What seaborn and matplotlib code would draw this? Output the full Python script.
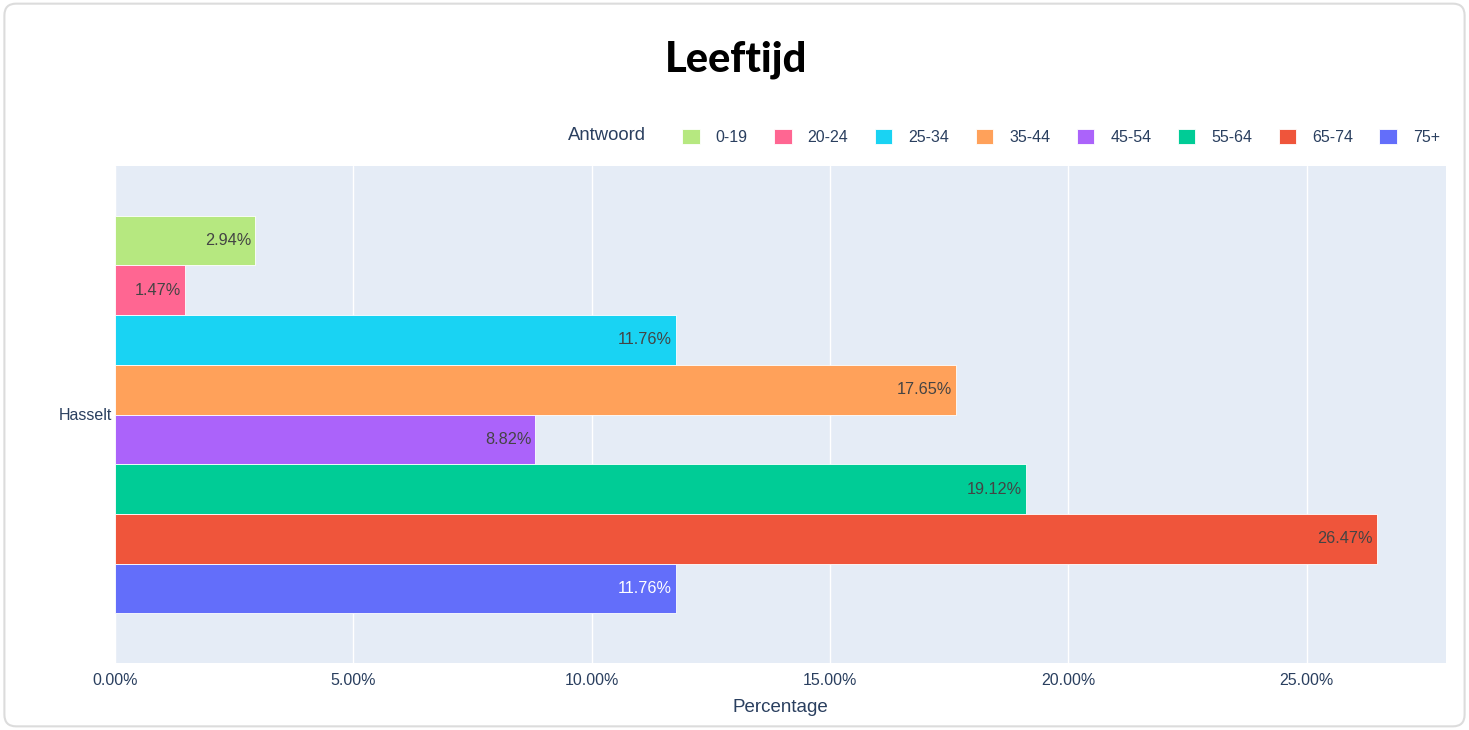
import matplotlib
matplotlib.use("Agg")
import matplotlib.pyplot as plt
import matplotlib.patches as mpatches
import pandas as pd
import seaborn as sns
from matplotlib.ticker import FuncFormatter

regio = ["Hasselt"] * 8
antwoord = ["0-19", "20-24", "25-34", "35-44", "45-54", "55-64", "65-74", "75+"]
percentage = [2.94, 1.47, 11.76, 17.65, 8.82, 19.12, 26.47, 11.76]
kleuren = ["#B6E880", "#FF6692", "#19D3F3", "#FFA15A", "#AB63FA", "#00CC96", "#EF553B", "#636EFA"]

df = pd.DataFrame({"Regio": regio, "Antwoord": antwoord, "Percentage": percentage})

sns.set_style("white")
plt.rcParams["font.family"] = ["Liberation Sans", "DejaVu Sans"]
txt_col = "#2a3f5f"

fig = plt.figure(figsize=(14.69, 7.30), dpi=100)
ax = fig.add_axes([115 / 1469, 1 - 663 / 730, (1446 - 115) / 1469, (663 - 166) / 730])
ax.set_facecolor("#E5ECF6")

sns.barplot(data=df, y="Regio", x="Percentage", hue="Antwoord", hue_order=antwoord,
            palette=kleuren, orient="h", errorbar=None, width=0.8,
            edgecolor="white", linewidth=0.6, saturation=1, ax=ax)

ax.set_xlim(0, 27.92)
ax.set_ylim(0.5, -0.5)
ax.set_xticks([0, 5, 10, 15, 20, 25])
ax.xaxis.set_major_formatter(FuncFormatter(lambda v, p: f"{v:.2f}%"))
ax.grid(axis="x", color="white", linewidth=1)
ax.set_axisbelow(True)
for s in ax.spines.values():
    s.set_visible(False)
ax.tick_params(axis="x", length=0, pad=7, labelsize=11.5, labelcolor=txt_col)
ax.tick_params(axis="y", length=0, pad=2, labelsize=11.5, labelcolor=txt_col)
ax.set_ylabel("")
ax.set_xlabel("Percentage", fontsize=13.5, color=txt_col, labelpad=8)

# labels inside the bar end
for i, bar in enumerate(ax.patches[:len(antwoord)]):
    w = bar.get_width()
    yc = bar.get_y() + bar.get_height() / 2
    col = "white" if antwoord[i] == "75+" else "#444444"
    ax.annotate(f"{w:.2f}%", xy=(w, yc), xytext=(-3, 0), textcoords="offset points",
                ha="right", va="center", fontsize=11.7, color=col)

# legend
handles, labels = ax.get_legend_handles_labels()
ax.get_legend().remove()
leg = fig.legend(handles, labels, ncol=8, loc="center right", bbox_to_anchor=(1440 / 1469, 1 - 137 / 730),
                 frameon=False, fontsize=11.5, handlelength=1.1, handleheight=1.1,
                 handletextpad=1.0, columnspacing=1.65, borderaxespad=0, borderpad=0)
for t in leg.get_texts():
    t.set_color(txt_col)
fig.text(568 / 1469, 1 - 136 / 730, "Antwoord", fontsize=13.3, color=txt_col, ha="left", va="center")

fig.text(0.501, 1 - 60 / 730, "Leeftijd", fontsize=30, fontweight="black",
         family=["Lato", "DejaVu Sans"], ha="center", va="center", color="black")

border = mpatches.FancyBboxPatch((0.003, 0.005), 0.994, 0.99, boxstyle="round,pad=0,rounding_size=0.008",
                                 transform=fig.transFigure, facecolor="none", edgecolor="#dcdcdc",
                                 linewidth=1.5, mutation_aspect=2)
fig.patches.append(border)

fig.savefig("out.png", dpi=100, facecolor="white")
